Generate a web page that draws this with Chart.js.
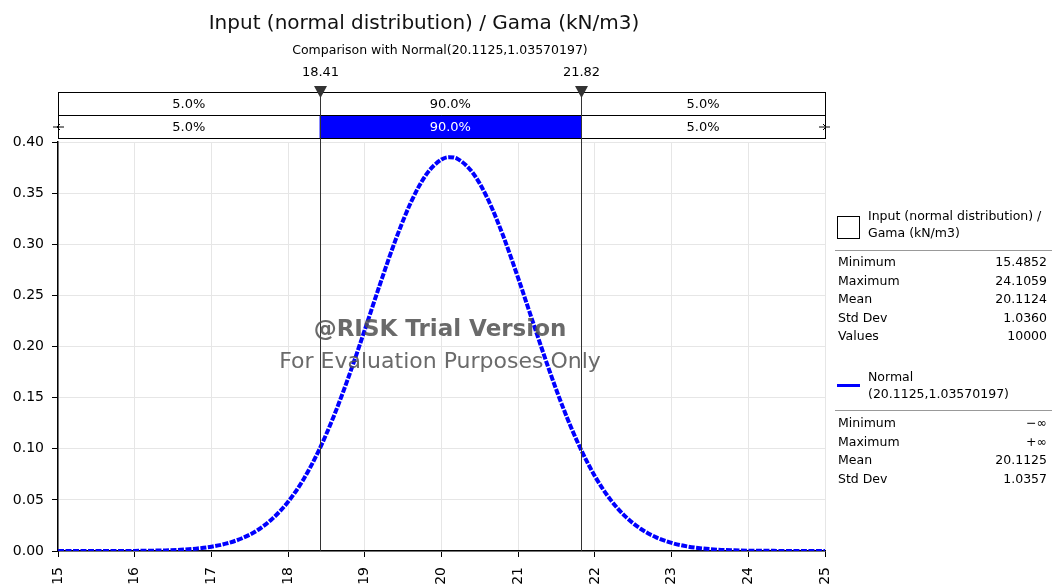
<!DOCTYPE html>
<html><head><meta charset="utf-8">
<script src="https://cdn.jsdelivr.net/npm/chart.js@4.4.1/dist/chart.umd.min.js"></script>
<style>html,body{margin:0;padding:0;background:#fff;}#wrap{width:1053px;height:586px;position:relative;}</style>
</head><body><div id="wrap"><canvas id="c" width="1053" height="586"></canvas></div>
<script>
const titleText = 'Input (normal distribution) / Gama (kN/m3)';
const subtitleText = 'Comparison with Normal(20.1125,1.03570197)';
const xValues = [15.0,15.2,15.4,15.6,15.8,16.0,16.2,16.4,16.6,16.8,17.0,17.2,17.4,17.6,17.8,18.0,18.2,18.4,18.6,18.8,19.0,19.2,19.4,19.6,19.8,20.0,20.1,20.2,20.4,20.6,20.8,21.0,21.2,21.4,21.6,21.8,22.0,22.2,22.4,22.6,22.8,23.0,23.2,23.4,23.6,23.8,24.0,24.2,24.4,24.6,24.8,25.0];
const normalPdf = [0.0000,0.0000,0.0000,0.0000,0.0001,0.0001,0.0003,0.0006,0.0012,0.0023,0.0042,0.0074,0.0125,0.0203,0.0319,0.0481,0.0700,0.0982,0.1326,0.1726,0.2163,0.2613,0.3040,0.3408,0.3681,0.3829,0.3852,0.3838,0.3706,0.3448,0.3090,0.2668,0.2220,0.1779,0.1373,0.1022,0.0732,0.0505,0.0336,0.0215,0.0133,0.0079,0.0045,0.0025,0.0013,0.0007,0.0003,0.0002,0.0001,0.0000,0.0000,0.0000];
const xTickValues = [15,16,17,18,19,20,21,22,23,24,25];
const yTickValues = [0.00,0.05,0.10,0.15,0.20,0.25,0.30,0.35,0.40];
const markerValues = [18.41, 21.82];
const markerLabels = ['18.41', '21.82'];
const inputPercents = ['5.0%', '90.0%', '5.0%'];
const normalPercents = ['5.0%', '90.0%', '5.0%'];
const inputLegendLines = ['Input (normal distribution) /', 'Gama (kN/m3)'];
const inputStatLabels = ['Minimum', 'Maximum', 'Mean', 'Std Dev', 'Values'];
const inputStatValues = ['15.4852', '24.1059', '20.1124', '1.0360', '10000'];
const normalLegendLines = ['Normal', '(20.1125,1.03570197)'];
const normalStatLabels = ['Minimum', 'Maximum', 'Mean', 'Std Dev'];
const normalStatValues = ['\u2212\u221E', '+\u221E', '20.1125', '1.0357'];

const FONT = '"DejaVu Sans", Verdana, sans-serif';
const BLUE = '#0000ff';

const overlay = {
  id: 'overlay',
  afterDraw(chart) {
    const ctx = chart.ctx;
    const xs = chart.scales.x, ca = chart.chartArea;
    const L = ca.left, R = ca.right;
    ctx.save();
    // titles
    ctx.fillStyle = '#111';
    ctx.textAlign = 'center';
    ctx.textBaseline = 'middle';
    ctx.font = '20px ' + FONT;
    ctx.fillText(titleText, 424, 24);
    ctx.fillStyle = '#000';
    ctx.font = '12.5px ' + FONT;
    ctx.fillText(subtitleText, 440, 51);

    const m0 = xs.getPixelForValue(markerValues[0]);
    const m1 = xs.getPixelForValue(markerValues[1]);
    const cuts = [L, m0, m1, R];
    const r1t = 92, r1b = 115, r2b = 138;
    // blue fill cell
    ctx.fillStyle = BLUE;
    ctx.fillRect(m0, r1b, m1 - m0, r2b - r1b);
    // boxes
    ctx.strokeStyle = '#000';
    ctx.lineWidth = 1;
    ctx.strokeRect(L + 0.5, r1t + 0.5, R - L, r2b - r1t);
    ctx.beginPath();
    ctx.moveTo(L, r1b + 0.5); ctx.lineTo(R, r1b + 0.5);
    ctx.stroke();
    // vertical marker lines
    ctx.strokeStyle = '#333';
    ctx.lineWidth = 1;
    [m0, m1].forEach(px => {
      ctx.beginPath();
      ctx.moveTo(Math.round(px) + 0.5, r1t);
      ctx.lineTo(Math.round(px) + 0.5, ca.bottom);
      ctx.stroke();
    });
    // percent texts
    ctx.font = '13px ' + FONT;
    for (let i = 0; i < 3; i++) {
      const cx = (cuts[i] + cuts[i + 1]) / 2;
      ctx.fillStyle = '#000';
      ctx.fillText(inputPercents[i], cx, (r1t + r1b) / 2 + 1);
      ctx.fillStyle = i === 1 ? '#fff' : '#000';
      ctx.fillText(normalPercents[i], cx, (r1b + r2b) / 2 + 1);
    }
    // triangles and labels
    [m0, m1].forEach((px, i) => {
      const x = Math.round(px) + 0.5;
      ctx.fillStyle = '#333';
      ctx.beginPath();
      ctx.moveTo(x - 6.5, 86); ctx.lineTo(x + 6.5, 86); ctx.lineTo(x, 98); ctx.closePath();
      ctx.fill();
      ctx.fillStyle = '#000';
      ctx.font = '13px ' + FONT;
      ctx.fillText(markerLabels[i], x, 73);
    });
    // end arrows on row 2
    ctx.strokeStyle = '#000';
    ctx.lineWidth = 1;
    const ay = (r1b + r2b) / 2 + 0.5;
    [[L, 1], [R, -1]].forEach(([x, d]) => {
      ctx.beginPath();
      ctx.moveTo(x - 5 * d, ay); ctx.lineTo(x + 6 * d, ay);
      ctx.moveTo(x + 2 * d, ay - 3); ctx.lineTo(x - 1 * d, ay); ctx.lineTo(x + 2 * d, ay + 3);
      ctx.stroke();
    });

    // watermark
    ctx.fillStyle = 'rgba(80,80,80,0.85)';
    ctx.font = 'bold 23px ' + FONT;
    ctx.fillText('@RISK Trial Version', 440, 330);
    ctx.font = '22px ' + FONT;
    ctx.fillText('For Evaluation Purposes Only', 440, 362);

    // legend
    const lx = 838, rx = 1047;
    ctx.textAlign = 'left';
    ctx.font = '12.5px ' + FONT;
    ctx.strokeStyle = '#000';
    ctx.strokeRect(837.5, 216.5, 22, 22);
    ctx.fillStyle = '#000';
    ctx.fillText(inputLegendLines[0], 868, 217);
    ctx.fillText(inputLegendLines[1], 868, 234);
    ctx.strokeStyle = '#999';
    ctx.beginPath(); ctx.moveTo(835, 250.5); ctx.lineTo(1052, 250.5); ctx.stroke();
    inputStatLabels.forEach((lab, i) => {
      const y = 263 + i * 18.5;
      ctx.textAlign = 'left'; ctx.fillText(lab, lx, y);
      ctx.textAlign = 'right'; ctx.fillText(inputStatValues[i], rx, y);
    });
    ctx.textAlign = 'left';
    ctx.fillStyle = BLUE;
    ctx.fillRect(837, 384, 23, 3);
    ctx.fillStyle = '#000';
    ctx.fillText(normalLegendLines[0], 868, 378);
    ctx.fillText(normalLegendLines[1], 868, 395);
    ctx.strokeStyle = '#999';
    ctx.beginPath(); ctx.moveTo(835, 410.5); ctx.lineTo(1052, 410.5); ctx.stroke();
    normalStatLabels.forEach((lab, i) => {
      const y = 424 + i * 18.5;
      ctx.textAlign = 'left'; ctx.fillText(lab, lx, y);
      ctx.textAlign = 'right'; ctx.fillText(normalStatValues[i], rx, y);
    });
    ctx.restore();
  }
};

new Chart(document.getElementById('c'), {
  type: 'line',
  data: {
    datasets: [{
      label: 'Normal',
      data: xValues.map((x, i) => ({ x: x, y: normalPdf[i] })),
      borderColor: BLUE,
      borderWidth: 4,
      borderDash: [6, 1.5],
      pointRadius: 0,
      fill: false,
      cubicInterpolationMode: 'monotone'
    }]
  },
  options: {
    responsive: false,
    animation: false,
    devicePixelRatio: 1,
    layout: { padding: { top: 142, right: 228, left: 0, bottom: 0 } },
    plugins: { legend: { display: false }, tooltip: { enabled: false }, title: { display: false } },
    scales: {
      x: {
        type: 'linear', min: 15, max: 25,
        afterBuildTicks: s => { s.ticks = xTickValues.map(v => ({ value: v })); },
        afterFit: s => { s.height = 35; },
        ticks: { minRotation: 90, maxRotation: 90, color: '#000', font: { family: FONT, size: 14 }, padding: 10, callback: v => String(v) },
        grid: { color: '#e6e6e6', tickColor: '#000', tickLength: 6 },
        border: { color: '#000', width: 1.5 }
      },
      y: {
        min: 0, max: 0.4,
        afterBuildTicks: s => { s.ticks = yTickValues.map(v => ({ value: v })); },
        afterFit: s => { s.width = 58; },
        ticks: { color: '#000', font: { family: FONT, size: 14 }, padding: 8, callback: v => Number(v).toFixed(2) },
        grid: { color: '#e6e6e6', tickColor: '#000', tickLength: 6 },
        border: { color: '#000', width: 1.5 }
      }
    }
  },
  plugins: [overlay]
});
</script>
</body></html>
